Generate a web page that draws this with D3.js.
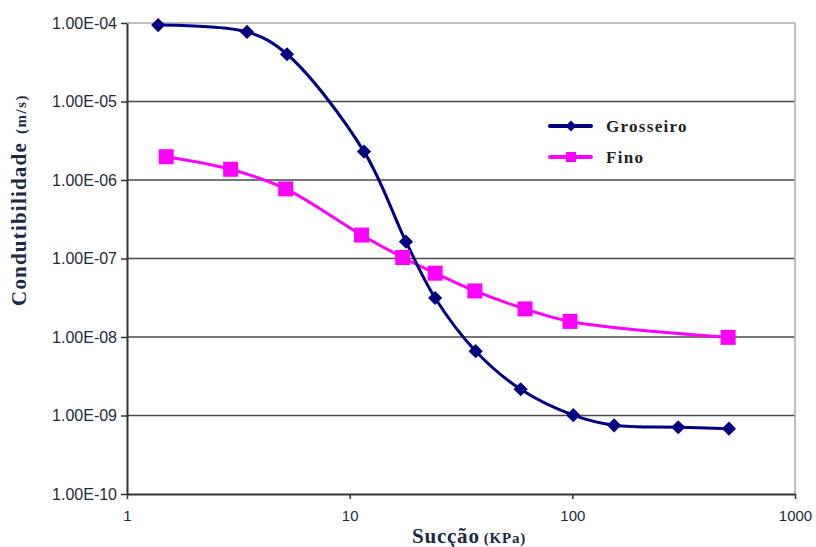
<!DOCTYPE html>
<html><head><meta charset="utf-8">
<script src="https://cdn.jsdelivr.net/npm/d3@7"></script>
<style>body{margin:0;background:#fff}</style>
</head><body>
<svg id="c" width="816" height="547"></svg>
<script>
const grossX = [1.38, 3.46, 5.23, 11.6, 17.9, 24.2, 36.8, 58.6, 101, 154, 299, 505];
const grossY = [9.4e-5, 7.7e-5, 4.0e-5, 2.3e-6, 1.64e-7, 3.14e-8, 6.6e-9, 2.16e-9, 1.01e-9, 7.5e-10, 7.08e-10, 6.8e-10];
const finoX = [1.50, 2.92, 5.16, 11.3, 17.3, 24.2, 36.5, 61.3, 97.6, 501];
const finoY = [1.98e-6, 1.37e-6, 7.7e-7, 1.99e-7, 1.03e-7, 6.5e-8, 3.86e-8, 2.28e-8, 1.58e-8, 9.9e-9];
const xTicks = [1, 10, 100, 1000];
const yTicks = [1e-10, 1e-9, 1e-8, 1e-7, 1e-6, 1e-5, 1e-4];
const seriesNames = ["Grosseiro", "Fino"];

const svg = d3.select("#c");
const L = 127, R = 795, T = 23, B = 494;
const x = d3.scaleLog().domain([1, 1000]).range([L, R]);
const y = d3.scaleLog().domain([1e-10, 1e-4]).range([B, T]);

const fmtY = v => {
  const e = Math.round(Math.log10(v));
  const s = Math.abs(e).toString().padStart(2, "0");
  return "1.00E" + (e < 0 ? "-" : "+") + s;
};

// gridlines
svg.append("g").selectAll("line").data(yTicks.filter(v => v > 1e-10 && v < 1e-4)).join("line")
  .attr("x1", L).attr("x2", R).attr("y1", d => y(d)).attr("y2", d => y(d))
  .attr("stroke", "#4a4a4a").attr("stroke-width", 1.5);
// plot border top/right
svg.append("line").attr("x1", L).attr("x2", R).attr("y1", T).attr("y2", T).attr("stroke", "#aaa").attr("stroke-width", 1.5);
svg.append("line").attr("x1", R).attr("x2", R).attr("y1", T).attr("y2", B).attr("stroke", "#aaa").attr("stroke-width", 1.5);

// axes
const yAxis = d3.axisLeft(y).tickValues(yTicks).tickFormat(fmtY).tickSize(6).tickSizeOuter(0);
const gy = svg.append("g").attr("transform", `translate(${L},0)`).call(yAxis);
gy.select(".domain").attr("stroke", "#333").attr("stroke-width", 2);
gy.selectAll(".tick line").attr("stroke", "#333").attr("stroke-width", 1.5);
gy.selectAll(".tick text").attr("font-family", "Liberation Sans, Arial, sans-serif").attr("font-size", 16)
  .attr("fill", "#1c2a3a").attr("x", -10);

const xAxis = d3.axisBottom(x).tickValues(xTicks).tickFormat(d3.format("d")).tickSize(5).tickSizeOuter(0);
const gx = svg.append("g").attr("transform", `translate(0,${B})`).call(xAxis);
gx.select(".domain").attr("stroke", "#333").attr("stroke-width", 2);
gx.selectAll(".tick line").attr("stroke", "#333").attr("stroke-width", 1.5);
gx.selectAll(".tick text").attr("font-family", "Liberation Sans, Arial, sans-serif").attr("font-size", 15)
  .attr("fill", "#1c2a3a").attr("y", 16);

// series
const line = d3.line().x(d => x(d[0])).y(d => y(d[1])).curve(d3.curveCatmullRom.alpha(0.5));
const gData = grossX.map((v, i) => [v, grossY[i]]);
const fData = finoX.map((v, i) => [v, finoY[i]]);
const colG = "#000080", colF = "#ff00ff";

svg.append("path").datum(fData).attr("d", line).attr("fill", "none").attr("stroke", colF).attr("stroke-width", 3);
svg.append("path").datum(gData).attr("d", line).attr("fill", "none").attr("stroke", colG).attr("stroke-width", 3);

const sq = d3.symbol().type(d3.symbolSquare).size(225);
const dia = d3.symbol().type(d3.symbolDiamond2).size(128);
svg.append("g").selectAll("path").data(fData).join("path")
  .attr("d", sq).attr("transform", d => `translate(${x(d[0])},${y(d[1])})`).attr("fill", colF);
svg.append("g").selectAll("path").data(gData).join("path")
  .attr("d", dia).attr("transform", d => `translate(${x(d[0])},${y(d[1])})`).attr("fill", colG);

// legend
const leg = svg.append("g");
const legItems = [
  {n: seriesNames[0], c: colG, s: d3.symbol().type(d3.symbolDiamond2).size(75), yy: 126},
  {n: seriesNames[1], c: colF, s: d3.symbol().type(d3.symbolSquare).size(100), yy: 157}
];
legItems.forEach(it => {
  leg.append("line").attr("x1", 550).attr("x2", 591).attr("y1", it.yy).attr("y2", it.yy)
    .attr("stroke", it.c).attr("stroke-width", 4).attr("stroke-linecap", "round");
  leg.append("path").attr("d", it.s).attr("transform", `translate(571,${it.yy})`).attr("fill", it.c);
  leg.append("text").attr("x", 606).attr("y", it.yy + 6).text(it.n)
    .attr("font-family", "Liberation Serif, Times New Roman, serif").attr("font-size", 17).attr("font-weight", "bold")
    .attr("fill", "#222").attr("letter-spacing", 1.3);
});

// axis titles
const yt = svg.append("text").attr("transform", "translate(26,200) rotate(-90)").attr("text-anchor", "middle")
  .attr("font-family", "Liberation Serif, Times New Roman, serif").attr("fill", "#1a2a44");
yt.append("tspan").attr("font-size", 21).attr("font-weight", "bold").attr("letter-spacing", 1.2).text("Condutibilidade");
yt.append("tspan").attr("font-size", 15).attr("font-weight", "bold").attr("letter-spacing", 1.5).attr("dx", 8).text("(m/s)");

const xt = svg.append("text").attr("x", 469).attr("y", 543).attr("text-anchor", "middle")
  .attr("font-family", "Liberation Serif, Times New Roman, serif").attr("fill", "#1a2a44");
xt.append("tspan").attr("font-size", 21).attr("font-weight", "bold").attr("letter-spacing", 0.8).text("Sucção");
xt.append("tspan").attr("font-size", 15).attr("font-weight", "bold").attr("letter-spacing", 0.8).attr("dx", 4).text("(KPa)");
</script>
</body></html>
